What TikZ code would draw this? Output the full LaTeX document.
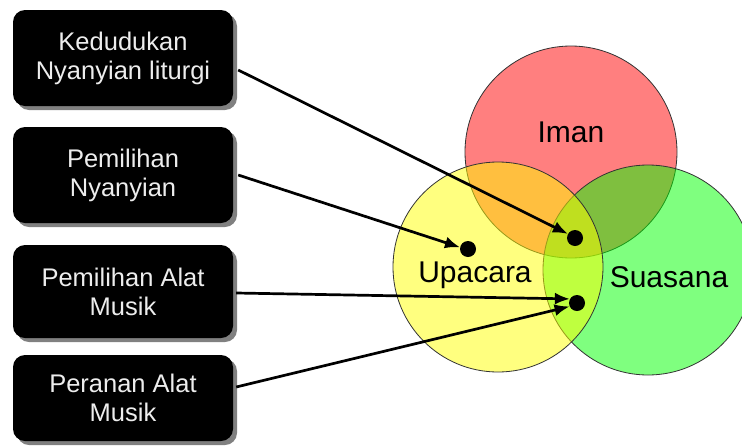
\documentclass[tikz,border=0pt]{standalone}
\usepackage{fontspec}
\setmainfont{Liberation Sans}
\usetikzlibrary{arrows.meta,shadows}
\begin{document}
\begin{tikzpicture}[x=1pt,y=-1pt,
  box/.style={fill=black, text=white!93!black, rounded corners=12pt, minimum width=220pt,
    align=center, font=\fontsize{25.5}{29}\selectfont, inner sep=0pt,
    drop shadow={shadow xshift=4pt, shadow yshift=-4pt, fill=black!50, opacity=1}},
  dot/.style={circle, fill=black, inner sep=0pt, minimum size=16pt},
  lbl/.style={font=\fontsize{30}{34}\selectfont, text=black},
  arr/.style={line width=2.7pt, -{Latex[length=15pt,width=12pt]}},
  ring/.style={draw=black!80, line width=0.8pt, fill opacity=0.5}]
\useasboundingbox (0,0) rectangle (742,445);
\clip (0,0) rectangle (742,445);
\fill[white] (0,0) rectangle (742,445);

% Venn circles
\path[ring, fill={rgb,255:red,255;green,0;blue,0}] (571,152) circle[radius=106];
\path[ring, fill={rgb,255:red,0;green,255;blue,0}] (648,270) circle[radius=105];
\path[ring, fill={rgb,255:red,255;green,255;blue,0}] (498,267) circle[radius=105];

\node[lbl] (iman) at (571,132) {Iman};
\node[lbl] (upacara) at (475,275) {Upacara};
\node[lbl] (suasana) at (669,277) {Suasana};

% boxes
\node[box, minimum height=96pt] (b1) at (123,58) {Kedudukan\\Nyanyian liturgi};
\node[box, minimum height=96pt] (b2) at (123,175) {Pemilihan\\Nyanyian};
\node[box, minimum height=93pt] (b3) at (123,291.5) {Pemilihan Alat\\Musik};
\node[box, minimum height=86pt] (b4) at (123,398) {Peranan Alat\\Musik};

% dots
\node[dot] (d1) at (468,249) {};
\node[dot] (d2) at (575,238) {};
\node[dot] (d3) at (577,303) {};

% arrows
\draw[arr] ([xshift=5pt,yshift=-12pt]b1.east) -- (d2.150);
\draw[arr] ([xshift=5pt]b2.east) -- (d1.168);
\draw[arr] ([xshift=3pt,yshift=-1.5pt]b3.east) -- (d3.150);
\draw[arr] ([xshift=3pt,yshift=11pt]b4.east) -- (d3.205);
\end{tikzpicture}
\end{document}
